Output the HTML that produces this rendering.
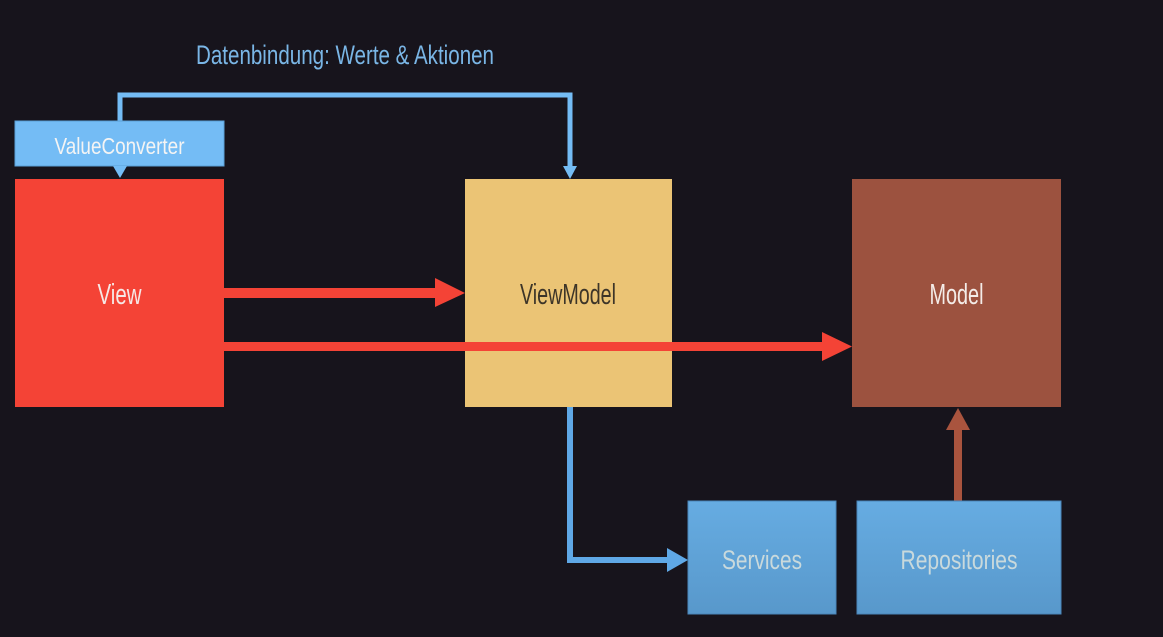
<!DOCTYPE html>
<html><head><meta charset="utf-8"><style>
html,body{margin:0;padding:0;background:#17141c;width:1163px;height:637px;overflow:hidden}
svg{display:block}
text{font-family:"Liberation Sans",sans-serif;}
</style></head><body>
<svg width="1163" height="637" viewBox="0 0 1163 637" xmlns="http://www.w3.org/2000/svg">
<rect width="1163" height="637" fill="#17141c"/>
<text x="196" y="64" font-size="27" fill="#7ab6e6" textLength="298" lengthAdjust="spacingAndGlyphs">Datenbindung: Werte &amp; Aktionen</text>
<polyline points="120,121 120,95 570,95 570,168" fill="none" stroke="#74bcf5" stroke-width="5"/>
<polygon points="563,166 577,166 570,179" fill="#74bcf5"/>
<rect x="15" y="121" width="209" height="45" fill="#74bcf5" stroke="#5aa0d8" stroke-width="1"/>
<text x="119.5" y="154" font-size="23" fill="#f4f4f4" text-anchor="middle" textLength="130" lengthAdjust="spacingAndGlyphs">ValueConverter</text>
<polygon points="113,166 127,166 120,178" fill="#74bcf5"/>
<rect x="15" y="179" width="209" height="228" fill="#f44336"/>
<text x="119.5" y="304" font-size="29" fill="#f6e8e6" text-anchor="middle" textLength="44" lengthAdjust="spacingAndGlyphs">View</text>
<rect x="465" y="179" width="207" height="228" fill="#ebc475"/>
<text x="568" y="304" font-size="29" fill="#3d3528" text-anchor="middle" textLength="96" lengthAdjust="spacingAndGlyphs">ViewModel</text>
<rect x="852" y="179" width="209" height="228" fill="#9c523f"/>
<text x="956.5" y="304" font-size="29" fill="#f4ece8" text-anchor="middle" textLength="54" lengthAdjust="spacingAndGlyphs">Model</text>
<rect x="224" y="288" width="214" height="10" fill="#f44336"/>
<polygon points="435,278 465,293 435,307" fill="#f44336"/>
<rect x="224" y="342" width="601" height="9" fill="#f44336"/>
<polygon points="822,332 852,346.5 822,361" fill="#f44336"/>
<polyline points="570,407 570,560 672,560" fill="none" stroke="#5fa8e6" stroke-width="6"/>
<polygon points="667,548 688,560 667,572" fill="#5fa8e6"/>
<rect x="954" y="425" width="8" height="77" fill="#a9543e"/>
<polygon points="946,430 958,408 970,430" fill="#a9543e"/>
<defs><linearGradient id="bg" x1="0" y1="0" x2="0" y2="1"><stop offset="0" stop-color="#66ace2"/><stop offset="1" stop-color="#5898cb"/></linearGradient></defs>
<rect x="688" y="501" width="148" height="113" fill="url(#bg)" stroke="#4a86ba" stroke-width="1"/>
<text x="762" y="569" font-size="27" fill="#c9d9dc" text-anchor="middle" textLength="80" lengthAdjust="spacingAndGlyphs">Services</text>
<rect x="857" y="501" width="204" height="113" fill="url(#bg)" stroke="#4a86ba" stroke-width="1"/>
<text x="959" y="569" font-size="27" fill="#c9d9dc" text-anchor="middle" textLength="117" lengthAdjust="spacingAndGlyphs">Repositories</text>
</svg>
</body></html>
